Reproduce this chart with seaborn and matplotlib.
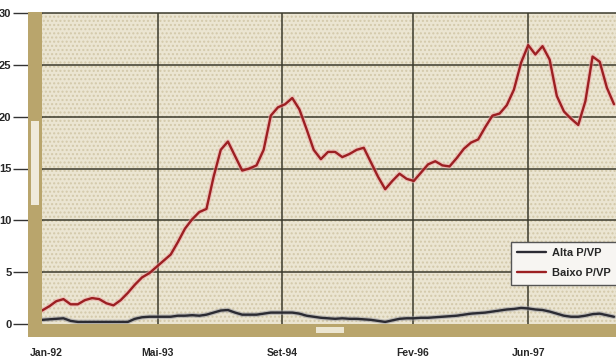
import numpy as np
import pandas as pd
import matplotlib
matplotlib.use("Agg")
import matplotlib.pyplot as plt
from matplotlib.patches import Rectangle
import seaborn as sns

# ---- data ----
baixo = [1.3, 1.7, 2.2, 2.4, 1.9, 1.9, 2.3, 2.5, 2.4, 2.0,
         1.8, 2.3, 3.0, 3.8, 4.5, 4.9, 5.5, 6.1, 6.7, 7.9,
         9.2, 10.1, 10.8, 11.1, 14.2, 16.8, 17.6, 16.2, 14.8, 15.0,
         15.3, 16.8, 20.1, 20.9, 21.2, 21.8, 20.7, 18.8, 16.8, 15.9,
         16.6, 16.6, 16.1, 16.4, 16.8, 17.0, 15.6, 14.2, 13.0, 13.8,
         14.5, 14.0, 13.8, 14.6, 15.4, 15.7, 15.3, 15.2, 16.0, 16.9,
         17.5, 17.8, 19.0, 20.1, 20.3, 21.1, 22.6, 25.2, 26.9, 26.0,
         26.8, 25.5, 22.0, 20.5, 19.8, 19.2, 21.5, 25.8, 25.3, 22.8,
         21.2]
alta = [0.4, 0.45, 0.5, 0.55, 0.3, 0.2, 0.2, 0.2, 0.2, 0.2,
        0.2, 0.2, 0.2, 0.5, 0.65, 0.7, 0.7, 0.7, 0.7, 0.8,
        0.8, 0.85, 0.8, 0.9, 1.1, 1.3, 1.35, 1.1, 0.9, 0.9,
        0.9, 1.0, 1.1, 1.1, 1.1, 1.1, 1.0, 0.8, 0.7, 0.6,
        0.55, 0.5, 0.55, 0.5, 0.5, 0.45, 0.4, 0.3, 0.2, 0.35,
        0.5, 0.55, 0.55, 0.6, 0.6, 0.65, 0.7, 0.75, 0.8, 0.9,
        1.0, 1.05, 1.1, 1.2, 1.3, 1.4, 1.45, 1.55, 1.5, 1.4,
        1.35, 1.2, 1.0, 0.8, 0.7, 0.7, 0.8, 0.95, 1.0, 0.85,
        0.7]
series_names = ["Alta P/VP", "Baixo P/VP"]
tick_labels = ["Jan-92", "Mai-93", "Set-94", "Fev-96", "Jun-97"]
y_ticks = [0, 5, 10, 15, 20, 25, 30]

# ---- layout constants ----
tick_pos = [0.6, 16.2, 33.6, 51.9, 68.0]
grid_pos = [16.2, 33.6, 51.9, 68.0]
W, H = 616, 359
ax_l, ax_r, ax_t, ax_b = 42, 616, 13, 324

sns.set_theme(style="white")
plt.rcParams['font.family'] = ['Liberation Sans Narrow', 'Liberation Sans', 'DejaVu Sans']

df = pd.DataFrame({
    "idx": list(range(len(alta))) + list(range(len(baixo))),
    "valor": alta + baixo,
    "serie": [series_names[0]] * len(alta) + [series_names[1]] * len(baixo),
})

fig = plt.figure(figsize=(W / 100, H / 100), dpi=100, facecolor="white")
ax = fig.add_axes([ax_l / W, 1 - ax_b / H, (ax_r - ax_l) / W, (ax_b - ax_t) / H])
ax.set_facecolor("#ebe5d2")
ax.add_patch(Rectangle((0, 0), 1, 1, transform=ax.transAxes, facecolor="none",
                       edgecolor="#d3c9aa", hatch="....", lw=0, zorder=0))

# halos
sns.lineplot(data=df, x="idx", y="valor", hue="serie",
             palette={series_names[0]: "#9a9aa0", series_names[1]: "#f0a8a8"},
             linewidth=3.4, alpha=0.55, ax=ax, legend=False, zorder=2)
sns.lineplot(data=df, x="idx", y="valor", hue="serie",
             palette={series_names[0]: "#2b2b33", series_names[1]: "#9c1f22"},
             linewidth=1.7, ax=ax, zorder=3)

ax.set_xlim(0, (ax_r - ax_l) / 7.15)
ax.set_ylim(0, 30)
ax.set_yticks(y_ticks)
ax.set_yticklabels([str(v) for v in y_ticks], fontweight="bold", fontsize=8)
ax.set_xticks(tick_pos)
ax.set_xticklabels(tick_labels, fontweight="bold", fontsize=7.5)
ax.set_xlabel("")
ax.set_ylabel("")
for v in y_ticks[1:]:
    ax.axhline(v, color="#3b3a2c", lw=1.1, zorder=1, clip_on=False)
for p in grid_pos:
    ax.axvline(p, color="#3b3a2c", lw=1.1, zorder=1)
for s in ax.spines.values():
    s.set_visible(False)
ax.tick_params(axis="y", length=21, width=1, color="#333333", pad=1, left=True)
ax.tick_params(axis="x", length=0, pad=17)

# 3D-like wall and floor bands
band = "#b9a56c"
fig.patches.append(Rectangle((28 / W, 1 - 337 / H), 14 / W, (337 - 12) / H,
                             transform=fig.transFigure, facecolor=band,
                             edgecolor="none", zorder=5))
fig.patches.append(Rectangle((28 / W, 1 - 337 / H), (616 - 28) / W, 13 / H,
                             transform=fig.transFigure, facecolor=band,
                             edgecolor="none", zorder=5))
fig.patches.append(Rectangle((31 / W, 1 - 205 / H), 8 / W, 84 / H,
                             transform=fig.transFigure, facecolor="#efeadb",
                             edgecolor="none", zorder=6))
fig.patches.append(Rectangle((316 / W, 1 - 333 / H), 28 / W, 6 / H,
                             transform=fig.transFigure, facecolor="#ece6d2",
                             edgecolor="none", zorder=6))

leg = ax.legend(loc="upper left", bbox_to_anchor=((505 - ax_l) / (ax_r - ax_l), (ax_b - 236) / (ax_b - ax_t)),
                frameon=True, fancybox=False, fontsize=8, handlelength=2.6,
                borderpad=0.6, labelspacing=0.9, handletextpad=0.5)
leg.get_frame().set_edgecolor("#555555")
leg.get_frame().set_facecolor("#f7f5f2")
leg.get_frame().set_alpha(1)
for t in leg.get_texts():
    t.set_fontweight("bold")
leg.set_zorder(10)

fig.savefig("out.png", dpi=100, facecolor="white")
